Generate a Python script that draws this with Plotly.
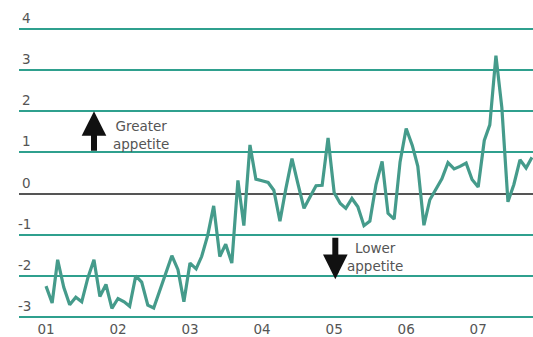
import pandas as pd
import plotly.graph_objects as go

# Monthly risk appetite index, Jan 2001 onwards
months = pd.date_range("2001-01-01", periods=82, freq="MS")
appetite = [
    -2.25, -2.66, -1.61, -2.28, -2.70, -2.52, -2.63, -2.05, -1.61, -2.50, -2.21, -2.79,
    -2.55, -2.63, -2.74, -2.00, -2.15, -2.71, -2.78, -2.37, -1.93, -1.51, -1.85, -2.63,
    -1.69, -1.83, -1.53, -1.01, -0.30, -1.53, -1.23, -1.69, 0.32, -0.78, 1.18, 0.35,
    0.31, 0.27, 0.08, -0.67, 0.12, 0.85, 0.24, -0.36, -0.08, 0.19, 0.20, 1.35,
    0.02, -0.24, -0.36, -0.12, -0.32, -0.78, -0.67, 0.22, 0.78, -0.48, -0.62, 0.77,
    1.58, 1.17, 0.66, -0.77, -0.15, 0.12, 0.36, 0.75, 0.60, 0.66, 0.74, 0.34,
    0.16, 1.29, 1.67, 3.35, 2.09, -0.20, 0.22, 0.82, 0.62, 0.88,
]

year_ticks = pd.date_range("2001-01-01", periods=7, freq="YS")
year_labels = ["01", "02", "03", "04", "05", "06", "07"]
y_ticks = [-3, -2, -1, 0, 1, 2, 3, 4]

TEAL = "#2fa08e"
LINE = "#459b8b"
TEXT = "#555555"
FONT = "DejaVu Sans"
FS = 13.5

fig = go.Figure()
fig.add_trace(go.Scatter(
    x=months, y=appetite, mode="lines",
    line=dict(color=LINE, width=3.2), hoverinfo="skip", showlegend=False,
))

annotations = []
# y labels sit just above their gridlines, right-aligned near the left edge
for v in y_ticks:
    annotations.append(dict(
        xref="paper", yref="y", x=0.027, y=v, text=str(v),
        xanchor="right", yanchor="middle", yshift=11, showarrow=False,
        font=dict(family=FONT, size=FS, color=TEXT),
    ))

# direction arrows
annotations.append(dict(
    xref="paper", yref="y", x=0.1459, y=2.0, ax=0, ay=41, text="",
    showarrow=True, arrowhead=2, arrowsize=0.82, arrowwidth=6, arrowcolor="#111111",
    standoff=0,
))
annotations.append(dict(
    xref="paper", yref="y", x=0.6154, y=-2.08, ax=0, ay=-43, text="",
    showarrow=True, arrowhead=2, arrowsize=0.82, arrowwidth=6, arrowcolor="#111111",
    standoff=0,
))
annotations.append(dict(
    xref="paper", yref="y", x=0.2374, y=1.42, text="Greater<br>appetite",
    xanchor="center", yanchor="middle", align="center", showarrow=False,
    font=dict(family=FONT, size=FS, color=TEXT),
))
annotations.append(dict(
    xref="paper", yref="y", x=0.6934, y=-1.53, text="Lower<br>appetite",
    xanchor="center", yanchor="middle", align="center", showarrow=False,
    font=dict(family=FONT, size=FS, color=TEXT),
))

fig.update_layout(
    width=533, height=337,
    margin=dict(l=19, r=0, t=17, b=16),
    paper_bgcolor="white", plot_bgcolor="white",
    showlegend=False,
    annotations=annotations,
    xaxis=dict(
        range=["2000-08-17", "2007-10-06"],
        tickvals=year_ticks, ticktext=year_labels,
        showgrid=False, zeroline=False, showline=False, ticks="",
        tickfont=dict(family=FONT, size=FS, color=TEXT),
        fixedrange=True,
    ),
    yaxis=dict(
        range=[-3.048, 4.29],
        tickvals=y_ticks, showticklabels=False,
        showgrid=True, gridcolor=TEAL, gridwidth=1.5,
        zeroline=True, zerolinecolor="#555555", zerolinewidth=2,
        showline=False, ticks="", fixedrange=True,
    ),
)

fig.write_html("out.html", config=dict(displayModeBar=False))
